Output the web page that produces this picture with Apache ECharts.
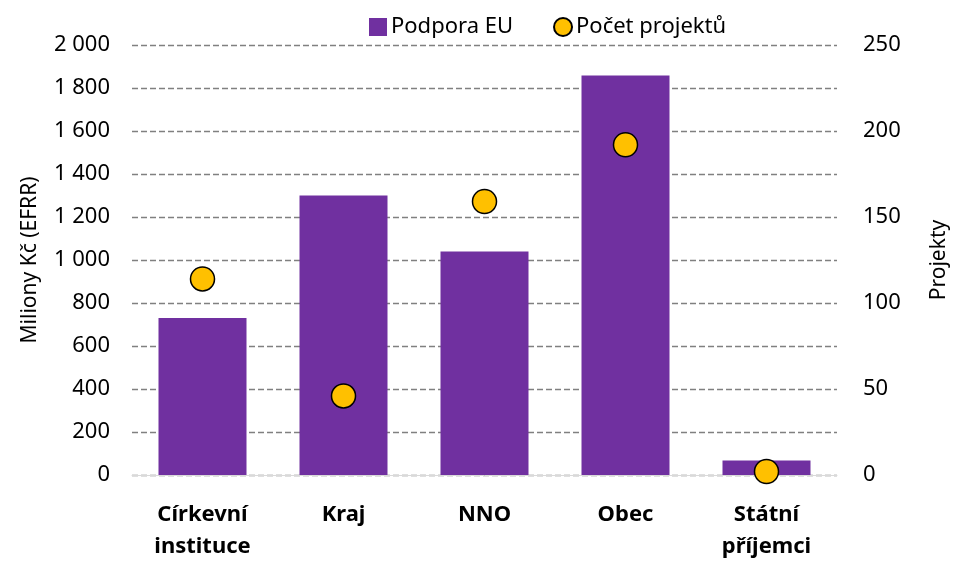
<!DOCTYPE html>
<html>
<head>
<meta charset="utf-8">
<script src="https://cdn.jsdelivr.net/npm/echarts@6/dist/echarts.min.js"></script>
<style>
  html, body { margin: 0; padding: 0; background: #fff; }
  #chart { width: 958px; height: 563px; }
</style>
</head>
<body>
<div id="chart"></div>
<script>
// kategorie příjemců
const categories = ['Církevní\ninstituce', 'Kraj', 'NNO', 'Obec', 'Státní\npříjemci']
// Podpora EU v mil. Kč
const podporaEU = [730, 1300, 1040, 1858, 68]
// počet projektů
const pocetProjektu = [114, 46, 159, 192, 2]

const fontFamily = '"Noto Sans", "Open Sans", sans-serif'
const fmtThousands = v => String(v).replace(/\B(?=(\d{3})+(?!\d))/g, ' ')

const myChart = echarts.init(document.getElementById('chart'))

const options = {
  animation: false,
  textStyle: { fontFamily: fontFamily },
  legend: {
    top: 11,
    left: 364,
    itemGap: 40,
    itemWidth: 18,
    itemHeight: 18,
    textStyle: { fontSize: 22, color: '#000', fontFamily: fontFamily, padding: [0, 0, 0, -1] },
    data: [
      { name: 'Podpora EU', icon: 'rect' },
      { name: 'Počet projektů', icon: 'circle', itemStyle: { opacity: 1 } }
    ]
  },
  grid: { left: 132, right: 116, top: 45, bottom: 86 },
  xAxis: {
    type: 'category',
    data: categories,
    axisLine: { lineStyle: { color: '#d9d9d9', width: 1 } },
    axisTick: { show: false },
    axisLabel: {
      color: '#000',
      fontSize: 22,
      fontWeight: 'bold',
      lineHeight: 32,
      margin: 24,
      fontFamily: fontFamily
    }
  },
  yAxis: [
    {
      type: 'value',
      min: 0,
      max: 2000,
      interval: 200,
      name: 'Miliony Kč (EFRR)',
      nameLocation: 'middle',
      nameRotate: 90,
      nameGap: 91,
      nameTextStyle: { fontSize: 21, color: '#000' },
      axisLine: { show: false },
      axisTick: { show: false },
      axisLabel: { color: '#000', fontSize: 22, margin: 22, formatter: fmtThousands },
      splitLine: { lineStyle: { color: '#808080', type: [6, 3], width: 1.3 } }
    },
    {
      type: 'value',
      min: 0,
      max: 250,
      interval: 25,
      name: 'Projekty',
      nameLocation: 'middle',
      nameRotate: 90,
      nameGap: 92,
      nameTextStyle: { fontSize: 21, color: '#000' },
      axisLine: { show: false },
      axisTick: { show: false },
      axisLabel: {
        color: '#000',
        fontSize: 22,
        margin: 26,
        formatter: v => (v % 50 === 0 ? String(v) : '')
      },
      splitLine: { show: false }
    }
  ],
  series: [
    {
      name: 'Podpora EU',
      type: 'bar',
      yAxisIndex: 0,
      barWidth: 88,
      itemStyle: { color: '#7030A0' },
      data: podporaEU
    },
    {
      name: 'Počet projektů',
      type: 'scatter',
      yAxisIndex: 1,
      symbol: 'circle',
      symbolSize: 24,
      z: 3,
      itemStyle: { color: '#FFC000', borderColor: '#000', borderWidth: 1.5, opacity: 1 },
      data: pocetProjektu
    }
  ]
}

myChart.setOption(options)
window.addEventListener('resize', () => {
  myChart.resize()
})
</script>
</body>
</html>
